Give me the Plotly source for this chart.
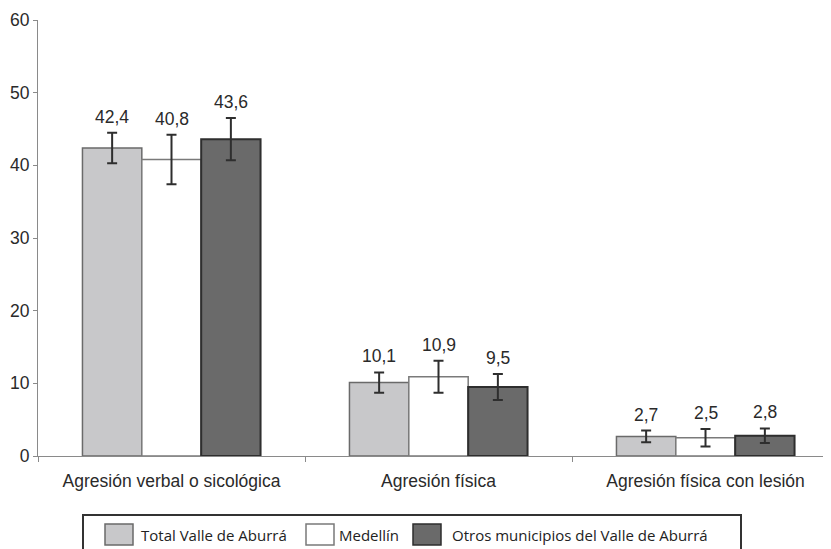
import plotly.graph_objects as go

categories = ["Agresión verbal o sicológica", "Agresión física", "Agresión física con lesión"]
series_names = ["Total Valle de Aburrá", "Medellín", "Otros municipios del Valle de Aburrá"]
total_vals = [42.4, 10.1, 2.7]
medellin_vals = [40.8, 10.9, 2.5]
otros_vals = [43.6, 9.5, 2.8]
total_err = [2.1, 1.4, 0.8]
medellin_err = [3.4, 2.2, 1.2]
otros_err = [2.9, 1.8, 1.0]
y_ticks = [0, 10, 20, 30, 40, 50, 60]

# page has an 8px body margin; figure sized to fit the window
OFF = 8
W, H = 831 - OFF, 549 - OFF
L, R, T, B = 38 - OFF, 0, 20 - OFF, 93
fills = ["#c8c8ca", "#ffffff", "#6a6a6a"]
edges = ["#6a6a6a", "#7a7a7a", "#2e2e2e"]
edge_w = [1.5, 1.5, 2]
FONT = "Liberation Sans"

fig = go.Figure()
data = [(total_vals, total_err), (medellin_vals, medellin_err), (otros_vals, otros_err)]
for i, (vals, errs) in enumerate(data):
    fig.add_trace(go.Bar(
        x=categories, y=vals, name=series_names[i],
        marker=dict(color=fills[i], line=dict(color=edges[i], width=edge_w[i])),
        error_y=dict(type="data", array=errs, visible=True, color="#2e2e2e", thickness=2, width=5),
        showlegend=False,
        offsetgroup=str(i),
    ))

annotations = []
offsets = [-1, 0, 1]
bar_w = (1 - 0.333) / 3
for i, (vals, errs) in enumerate(data):
    for j, c in enumerate(categories):
        annotations.append(dict(
            x=j + offsets[i] * bar_w, y=vals[j] + errs[j], xref="x", yref="y",
            text=f"{vals[j]:.1f}".replace(".", ","), showarrow=False,
            yanchor="bottom", yshift=4,
            font=dict(family=FONT, size=17.5, color="#2a2a2a"),
        ))

# custom legend (page pixel -> paper)
pw = W - L - R
ph = H - T - B
def px(xp):
    return (xp - OFF - L) / pw
def py(yp):
    return (H - B - (yp - OFF)) / ph

shapes = [dict(type="rect", xref="paper", yref="paper",
               x0=px(83), x1=px(741), y0=py(515), y1=py(570),
               line=dict(color="#333333", width=2), fillcolor="rgba(0,0,0,0)")]
sw_x = [105, 306, 413]
tx_x = [139, 337, 450]
for i in range(3):
    shapes.append(dict(type="rect", xref="paper", yref="paper",
                       x0=px(sw_x[i]), x1=px(sw_x[i] + 28), y0=py(524), y1=py(545),
                       line=dict(color=edges[i], width=1.5), fillcolor=fills[i]))
    annotations.append(dict(x=px(tx_x[i]), y=py(534.5), xref="paper", yref="paper",
                            text=series_names[i], showarrow=False,
                            xanchor="left", yanchor="middle",
                            font=dict(family="Open Sans", size=15, color="#222222")))

fig.update_layout(
    width=W, height=H,
    margin=dict(l=L, r=R, t=T, b=B, pad=0, autoexpand=False),
    paper_bgcolor="white", plot_bgcolor="white",
    barmode="group", bargap=0.333, bargroupgap=0,
    separators=",.",
    shapes=shapes, annotations=annotations,
    font=dict(family=FONT, size=17.5, color="#2a2a2a"),
)
fig.update_xaxes(
    range=[-0.5, 2.47], showgrid=False, showline=True, linecolor="#8a8a8a", linewidth=1,
    ticks="outside", tickson="boundaries", ticklen=5, tickcolor="#8a8a8a",
    tickfont=dict(family=FONT, size=17.5, color="#2a2a2a"), ticklabelstandoff=9,
    automargin=False,
)
fig.update_yaxes(
    range=[0, 60], tickvals=y_ticks, showgrid=False, zeroline=False,
    showline=True, linecolor="#8a8a8a", linewidth=1,
    ticks="outside", ticklen=4, tickcolor="#8a8a8a",
    tickfont=dict(family=FONT, size=17.5, color="#2a2a2a"),
    automargin=False,
)
fig.write_html("out.html")
